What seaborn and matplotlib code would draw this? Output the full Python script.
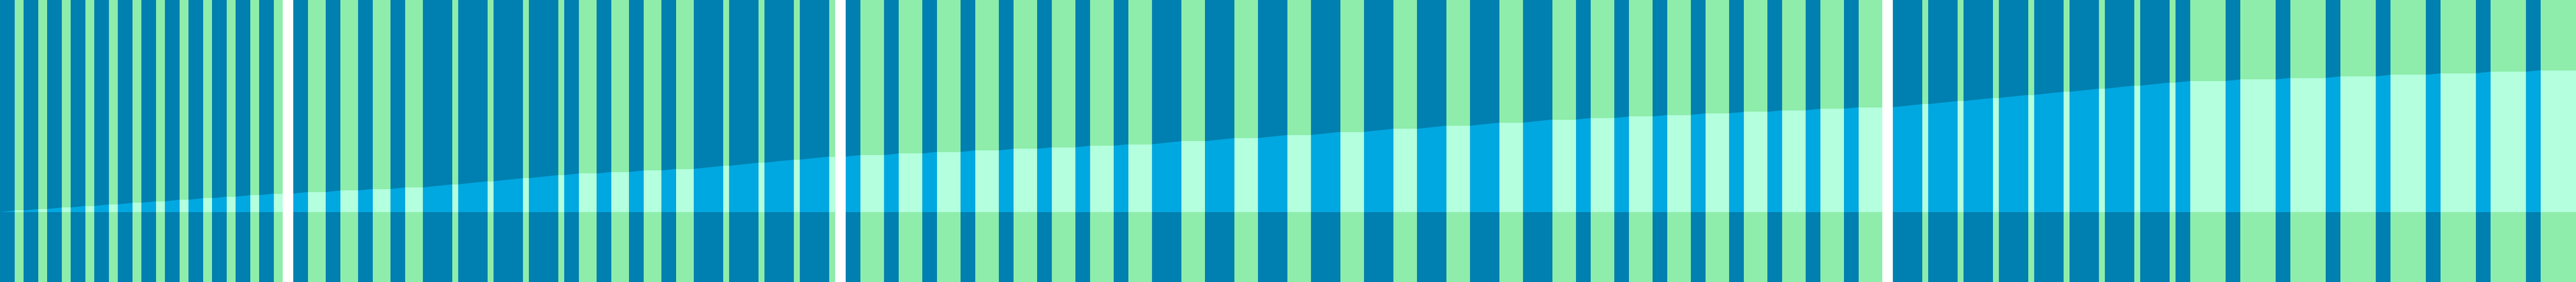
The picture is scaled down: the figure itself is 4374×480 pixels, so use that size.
import numpy as np
import pandas as pd
import seaborn as sns
import matplotlib
matplotlib.use('Agg')
import matplotlib.pyplot as plt

sns.set_theme(style='white')

# stripe groups from left to right, widths in px of the 4374 px canvas
pair_count = [12, 4, 4, 4, 4, 8, 8, 8, 8, 8]
blue_width = [25, 25, 50, 25, 50, 25, 50, 25, 50, 25]
green_width = [15, 30, 10, 30, 10, 40, 40, 40, 10, 60]
gap_after = [1, 0, 0, 0, 1, 0, 0, 1, 0, 0]   # white gap after the group
gap_width = 18

# light band: bottom edge, and how much it climbs per px of blue stripe
band_base = 119
band_rise = 0.105
height = 480

colors = {'blue': '#0080b0', 'green': '#8eedaa'}
band_colors = {'blue': '#00a8e1', 'green': '#b3ffde'}

rows = []
x = 0
for n, b, g, gap in zip(pair_count, blue_width, green_width, gap_after):
    for _ in range(n):
        rows.append(('blue', x, x + b))
        x += b
        rows.append(('green', x, x + g))
        x += g
    if gap:
        rows.append(('gap', x, x + gap_width))
        x += gap_width
stripes = pd.DataFrame(rows, columns=['kind', 'x0', 'x1'])
stripes['w'] = stripes.x1 - stripes.x0
grow = np.where(stripes.kind == 'blue', stripes.w * band_rise, 0.0)
stripes['top1'] = band_base + np.cumsum(grow)
stripes['top0'] = stripes.top1 - grow

fig = plt.figure(figsize=(43.74, 4.8), dpi=100)
ax = fig.add_axes([0, 0, 1, 1])

for kind in ['blue', 'green']:
    s = stripes[stripes.kind == kind]
    ax.bar(s.x0, height, width=s.w, align='edge', color=colors[kind], linewidth=0)

xs = np.column_stack([stripes.x0, stripes.x1]).ravel()
ys = np.column_stack([stripes.top0, stripes.top1]).ravel()
for kind in ['blue', 'green']:
    mask = np.repeat(stripes.kind.values == kind, 2)
    ax.fill_between(xs, band_base, ys, where=mask, color=band_colors[kind],
                    linewidth=0)

ax.set_xlim(0, x)
ax.set_ylim(0, height)
ax.set_axis_off()

plt.savefig('out.png', dpi=100, facecolor='white')
